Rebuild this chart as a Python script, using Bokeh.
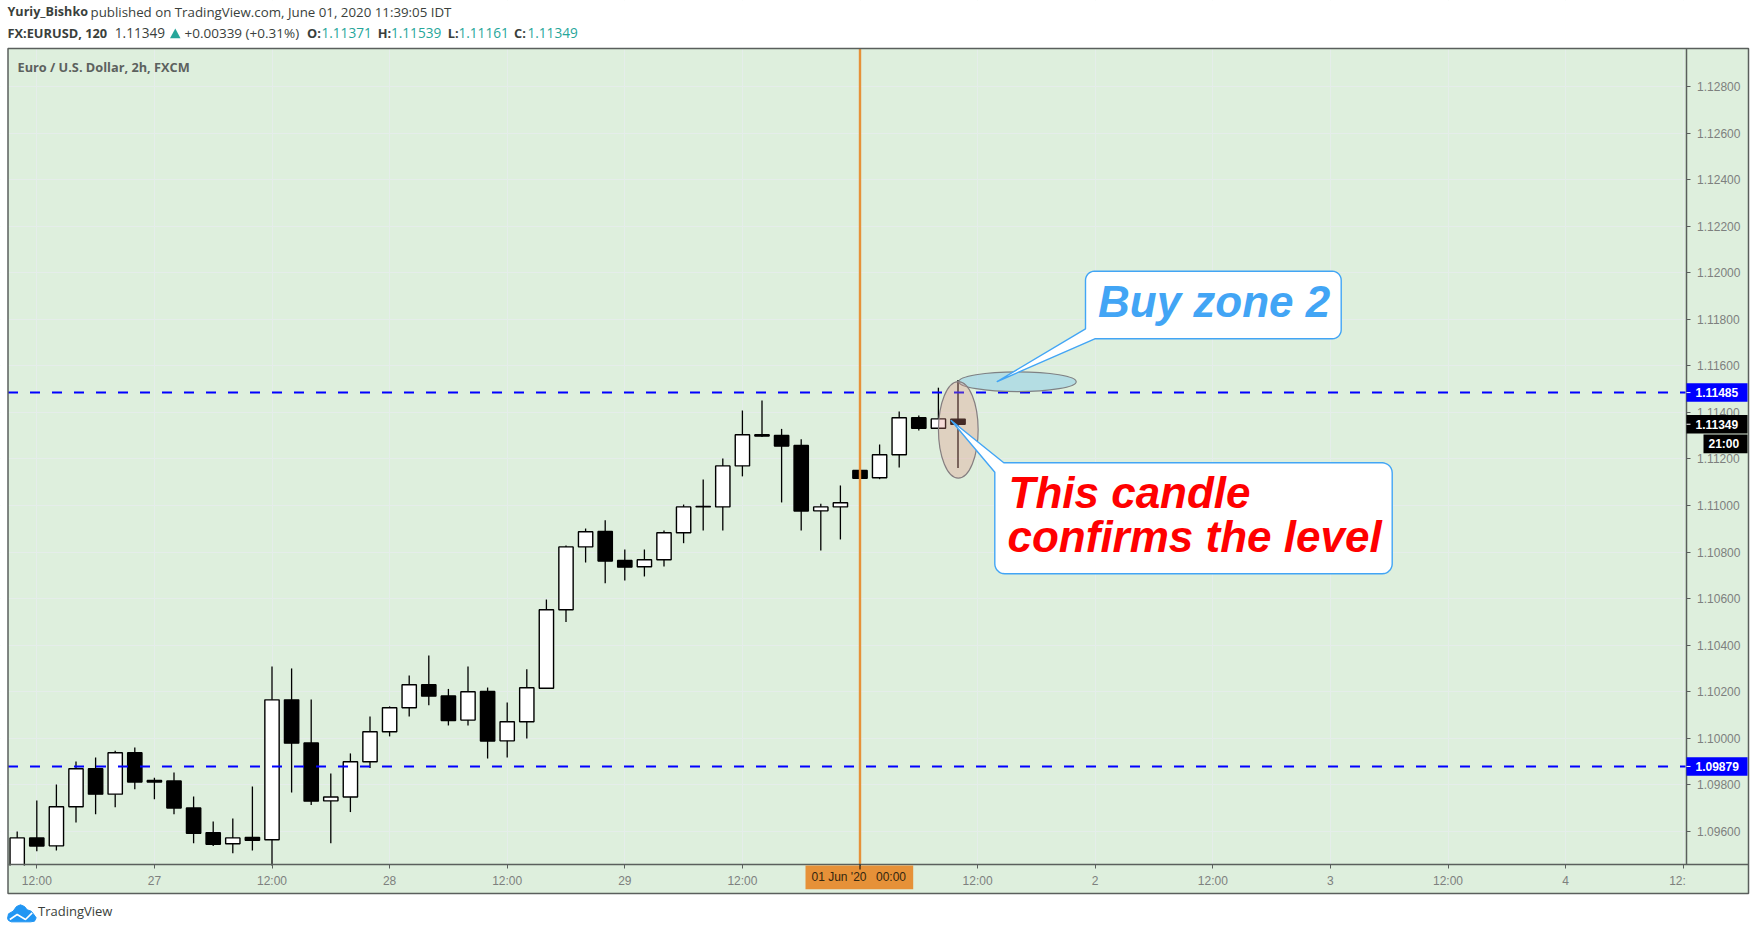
import numpy as np
from bokeh.plotting import figure
from bokeh.models import FixedTicker, NumeralTickFormatter
from bokeh.core.properties import value
from bokeh.embed import file_html
from bokeh.resources import INLINE

# ---- data (bars are 2h; index 0 = 26 May 12:00, weekend removed)
bar_index = list(range(-1, 48))
opens = [1.09430,1.09572,1.09538,1.09706,1.09869,1.09760,1.09938,1.09819,1.09817,1.09701,
         1.09594,1.09547,1.09574,1.09564,1.10165,1.09980,1.09731,1.09748,1.09899,1.10028,
         1.10131,1.10230,1.10182,1.10078,1.10201,1.09989,1.10071,1.10215,1.10552,1.10822,
         1.10888,1.10764,1.10737,1.10767,1.10883,1.10996,1.10994,1.11170,1.11304,1.11301,
         1.11258,1.10977,1.10994,1.11150,1.11119,1.11218,1.11377,1.11332,1.11371]
highs = [1.09600,1.09733,1.09801,1.09900,1.09917,1.09946,1.09960,1.09830,1.09853,1.09750,
         1.09643,1.09655,1.09793,1.10308,1.10300,1.10167,1.09849,1.09935,1.10094,1.10137,
         1.10270,1.10356,1.10212,1.10308,1.10218,1.10154,1.10296,1.10596,1.10828,1.10901,
         1.10937,1.10811,1.10811,1.10893,1.11004,1.11112,1.11202,1.11408,1.11451,1.11329,
         1.11284,1.11007,1.11086,1.11150,1.11262,1.11404,1.11387,1.11506,1.11539]
lows = [1.09420,1.09515,1.09518,1.09638,1.09674,1.09704,1.09781,1.09738,1.09674,1.09549,
        1.09537,1.09506,1.09518,1.09440,1.09767,1.09713,1.09549,1.09683,1.09872,1.10008,
        1.10094,1.10142,1.10055,1.10055,1.09913,1.09917,1.09999,1.10215,1.10499,1.10755,
        1.10666,1.10678,1.10695,1.10738,1.10838,1.10893,1.10893,1.11125,1.11294,1.11013,
        1.10893,1.10807,1.10854,1.11117,1.11113,1.11163,1.11322,1.11332,1.11161]
closes = [1.09572,1.09537,1.09706,1.09869,1.09760,1.09938,1.09812,1.09812,1.09700,1.09592,
          1.09545,1.09572,1.09562,1.10165,1.09979,1.09730,1.09748,1.09899,1.10028,1.10131,
          1.10230,1.10181,1.10076,1.10200,1.09988,1.10071,1.10217,1.10552,1.10822,1.10887,
          1.10761,1.10735,1.10767,1.10883,1.10994,1.10994,1.11170,1.11304,1.11298,1.11255,
          1.10976,1.10994,1.11012,1.11117,1.11218,1.11377,1.11332,1.11372,1.11349]
time_ticks = [0, 6, 12, 18, 24, 30, 36, 42, 48, 54, 60, 66, 72, 78, 84]
time_labels = ["12:00", "27", "12:00", "28", "12:00", "29", "12:00", "", "12:00", "2",
               "12:00", "3", "12:00", "4", ""]
price_ticks = [1.096, 1.098, 1.100, 1.102, 1.104, 1.106, 1.108, 1.110, 1.112, 1.114,
               1.116, 1.118, 1.120, 1.122, 1.124, 1.126, 1.128]
level_prices = [1.11485, 1.09879]
level_labels = ["1.11485", "1.09879"]
last_price = 1.11349
marked_bar = 42

BG = "#deefdd"
AXIS = "#5a5f5c"
SANS = value("Open Sans")
ARIAL = value("Liberation Sans")


# helpers for the decoration placed by page pixel
def fx(px):
    return (np.asarray(px, dtype=float) - 36.3) / 19.6


def fy(py):
    return 1.096 + (830.9 - np.asarray(py, dtype=float)) / 23280


p = figure(width=1752, height=930, x_range=(float(fx(0)), float(fx(1752))),
           y_range=(float(fy(930)), float(fy(0))), min_border=0, toolbar_location=None,
           output_backend="svg", x_axis_location="below", y_axis_location="right")
p.outline_line_color = None
p.background_fill_color = "white"
p.border_fill_color = "white"
p.xgrid.grid_line_color = "#e5edea"
p.ygrid.grid_line_color = "#e5edea"

# axes
xa, ya = p.xaxis[0], p.yaxis[0]
xa.fixed_location = float(fy(864.3))
ya.fixed_location = float(fx(1685.6))
xa.bounds = (float(fx(7.5)), float(fx(1748)))
ya.bounds = (float(fy(864.3)), float(fy(48)))
xa.ticker = FixedTicker(ticks=time_ticks)
xa.major_label_overrides = {t: s for t, s in zip(time_ticks, time_labels)}
ya.ticker = FixedTicker(ticks=price_ticks)
ya.formatter = NumeralTickFormatter(format="0.00000")
for a in (xa, ya):
    a.axis_line_color = AXIS
    a.axis_line_width = 1.5
    a.major_tick_line_color = AXIS
    a.major_tick_in = 0
    a.major_tick_out = 4
    a.minor_tick_line_color = None
    a.major_label_text_font = "Liberation Sans"
    a.major_label_text_font_size = "12px"
    a.major_label_text_color = "#7d807e"
xa.major_label_standoff = 5
ya.major_label_standoff = 7

# white surround over the grid, green chart under it
p.quad(left=fx(0), right=fx(1756), top=fy(0), bottom=fy(48), fill_color="white", line_color=None)
p.quad(left=fx(0), right=fx(1756), top=fy(893), bottom=fy(940), fill_color="white", line_color=None)
p.quad(left=fx(1748), right=fx(1756), top=fy(0), bottom=fy(940), fill_color="white", line_color=None)
p.quad(left=fx(0), right=fx(7.5), top=fy(0), bottom=fy(940), fill_color="white", line_color=None)
p.quad(left=fx(7.5), right=fx(1748), top=fy(48), bottom=fy(893), fill_color=BG, line_color=None, level="underlay")
p.renderers.insert(0, p.renderers.pop())
p.xgrid.level = "underlay"
p.ygrid.level = "underlay"

# candles
xs = np.array(bar_index, dtype=float)
o, h, l, c = map(np.array, (opens, highs, lows, closes))
up = c > o
p.segment(xs, h, xs, l, line_color="black", line_width=1.3)
p.vbar(xs, 0.73, np.maximum(o, c), np.minimum(o, c),
       fill_color=["white" if u else "black" for u in up], line_color="black", line_width=1.4)

# marked date and price levels
p.segment(marked_bar, float(fy(48)), marked_bar, float(fy(864)), line_color="#e69138", line_width=2.4)
p.segment(float(fx(7.5)), level_prices, float(fx(1685)), level_prices, line_color="#0000ff",
          line_width=2, line_dash="10 12")

# axis bands, above the candles
p.quad(left=fx(1686.3), right=fx(1748), top=fy(48), bottom=fy(893), fill_color=BG, line_color=None)
p.quad(left=fx(7.5), right=fx(1748), top=fy(865), bottom=fy(893), fill_color=BG, line_color=None)
p.quad(left=fx(7.5), right=fx(1748), top=fy(48), bottom=fy(893), fill_color=None, line_color=AXIS, line_width=1.5)

# highlight ellipses
p.ellipse(x=float(fx(1017)), y=float(fy(381.2)), width=117.4 / 19.6, height=19.7 / 23280,
          fill_color="#52b3f1", fill_alpha=0.3, line_color="#7f8184", line_width=1.2)
p.ellipse(x=float(fx(957.8)), y=float(fy(429.3)), width=39.7 / 19.6, height=96.7 / 23280,
          fill_color="#e28c7e", fill_alpha=0.3, line_color="#857e80", line_width=1.2)


# speech bubbles
def corner(cx, cy, r, a0, a1):
    t = np.radians(np.linspace(a0, a1, 8))
    return list(cx + r * np.cos(t)), list(cy + r * np.sin(t))


def bubble(pts_x, pts_y):
    p.patch(fx(pts_x), fy(pts_y), fill_color="white", line_color="#42a5f5", line_width=1.4, line_join="round")


L, T, R, B, r = 1085.0, 270.7, 1340.7, 338.3, 9.0
x1, y1 = corner(L + r, T + r, r, 180, 270)
x2, y2 = corner(R - r, T + r, r, 270, 360)
x3, y3 = corner(R - r, B - r, r, 0, 90)
bubble(x1 + x2 + x3 + [1094.3, 996.7, L], y1 + y2 + y3 + [B, 381.0, 328.3])

L, T, R, B, r = 994.3, 462.3, 1391.7, 573.3, 10.0
x2, y2 = corner(R - r, T + r, r, 270, 360)
x3, y3 = corner(R - r, B - r, r, 0, 90)
x4, y4 = corner(L + r, B - r, r, 90, 180)
bubble(x2 + x3 + x4 + [L, 950.7, 1003.3], y2 + y3 + y4 + [471.7, 420.0, T])


def txt(px, py, s, color, font=SANS, size=13.3, style="normal", align="left", level="glyph"):
    # Bokeh drops "alphabetic" text by about a third of its size
    p.text(x=[float(fx(px))], y=[float(fy(py - 0.36 * size))], text=[s], text_color=color, text_font=font,
           text_font_size=f"{size}px", text_font_style=style, text_align=align,
           text_baseline="alphabetic", level=level)


txt(1097.5, 316.7, "Buy zone 2", "#42a5f5", ARIAL, 44, "bold italic")
txt(1008, 507.8, "This candle", "#ff0000", ARIAL, 44, "bold italic")
txt(1007, 551.7, "confirms the level", "#ff0000", ARIAL, 44, "bold italic")

# right-hand price tags
half = 9.3 / 23280
tags = level_prices + [last_price]
p.quad(left=float(fx(1686)), right=float(fx(1747)), top=[t + half for t in tags], bottom=[t - half for t in tags],
       fill_color=["#0000ff", "#0000ff", "#000000"], line_color=None, level="annotation")
p.segment(float(fx(1686)), tags, float(fx(1690)), tags, line_color="white", line_width=1, level="annotation")
for price, s in zip(tags, level_labels + ["1.11349"]):
    p.text(x=[float(fx(1695))], y=[price], text=[s], text_color="white", text_font=ARIAL,
           text_font_size="12px", text_font_style="bold", text_baseline="middle", level="annotation")
p.quad(left=float(fx(1703)), right=float(fx(1747)), top=float(fy(434)), bottom=float(fy(452.7)),
       fill_color="black", line_color=None, level="annotation")
txt(1708, 448, "21:00", "white", ARIAL, 12, "bold", level="annotation")

# date tag on the time axis
p.quad(left=float(fx(805)), right=float(fx(912.7)), top=float(fy(865)), bottom=float(fy(888.7)),
       fill_color="#e69138", line_color=None, level="annotation")
p.segment(marked_bar, float(fy(864)), marked_bar, float(fy(869)), line_color="black", line_width=1, level="annotation")
txt(811, 881, "01 Jun '20", "#33260f", ARIAL, 12, level="annotation")
txt(875.5, 881, "00:00", "#33260f", ARIAL, 12, level="annotation")
txt(1677, 885, "12:", "#7d807e", ARIAL, 12, align="center")

# header
txt(7, 16, "Yuriy_Bishko", "#3a3f3c", size=12.6, style="bold")
txt(90, 16, "published on TradingView.com, June 01, 2020 11:39:05 IDT", "#3a3f3c")
txt(7, 37, "FX:EURUSD, 120", "#3a3f3c", size=12.8, style="bold")
txt(114.3, 37, "1.11349", "#3a3f3c", size=13.6)
p.patch(fx([169.5, 180, 174.8]), fy([37.7, 37.7, 28]), fill_color="#26a69a", line_color=None)
txt(184, 37, "+0.00339 (+0.31%)", "#3a3f3c", size=13.5)
for px, s in ((306.5, "O:"), (377.2, "H:"), (447.3, "L:"), (513.5, "C:")):
    txt(px, 37, s, "#3a3f3c", size=12.8, style="bold")
for px, s in ((321, "1.11371"), (390.5, "1.11539"), (458, "1.11161"), (527, "1.11349")):
    txt(px, 37, s, "#26a69a", size=13.6)
txt(17, 70.7, "Euro / U.S. Dollar, 2h, FXCM", "#5c615e", style="bold", size=12.75)

# footer logo
cloud_x = np.array([21, 24, 38, 48, 60, 72, 80, 92, 100, 107, 102, 90, 32, 24]) / 3
cloud_y = 894 + np.array([72, 58, 50, 36, 31, 36, 46, 50, 60, 70, 80, 82, 82, 78]) / 3
p.patch(fx(cloud_x), fy(cloud_y), fill_color="#2196f3", line_color="#2196f3", line_width=1, line_join="round")
p.line(fx(np.array([28, 50, 75, 95]) / 3), fy(894 + np.array([75, 60, 75, 55]) / 3), line_color="white", line_width=1.6)
txt(37.5, 915.5, "TradingView", "#3a3f3c", size=13)

open("out.html", "w").write(file_html(p, INLINE))
